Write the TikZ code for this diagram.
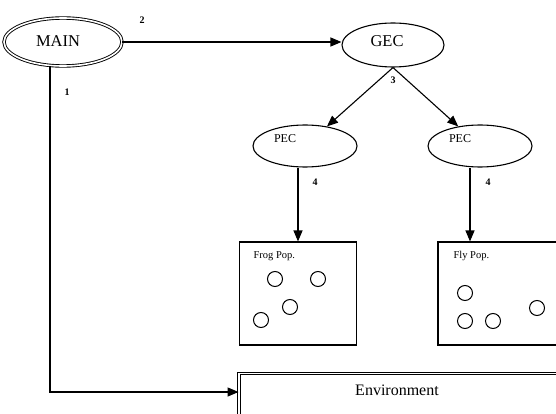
\documentclass[tikz,border=0pt]{standalone}
\usepackage{fontspec}
\setmainfont{Liberation Serif}
\usetikzlibrary{arrows.meta,shapes.geometric,calc}
\begin{document}
\begin{tikzpicture}[x=1pt,y=-1pt,
  line width=1.1pt,
  arr/.style={-{Triangle[length=11pt,width=9pt]}},
  oval/.style={draw,ellipse,inner sep=0pt},
  big/.style={font=\fontsize{16.5}{18}\selectfont,inner sep=0pt},
  popbox/.style={draw,rectangle,inner sep=0pt,minimum height=103pt},
  dot/.style={draw,circle,inner sep=0pt,minimum size=15pt,line width=1pt},
  num/.style={font=\fontsize{10}{12}\selectfont\bfseries,inner sep=0pt},
  small/.style={font=\fontsize{10.5}{12}\selectfont,inner sep=0pt,anchor=west}]
\useasboundingbox (0,0) rectangle (556,414);
\clip (0,0) rectangle (556,414);

% controllers
\node[oval,double,double distance=1.6pt,line width=0.9pt,minimum width=118pt,minimum height=48pt] (main) at (63,42) {};
\node[big] (maint) at (58,41) {MAIN};
\node[oval,minimum width=102pt,minimum height=44pt] (gec) at (393,45) {};
\node[big] (gect) at (387,41) {GEC};
\node[oval,minimum width=104pt,minimum height=42pt] (pecL) at (305,146) {};
\node[oval,minimum width=104pt,minimum height=42pt] (pecR) at (480,146) {};
\node[font=\fontsize{12}{14}\selectfont,inner sep=0pt] (pecLt) at (285,139) {PEC};
\node[font=\fontsize{12}{14}\selectfont,inner sep=0pt] (pecRt) at (460,139) {PEC};

% populations (the right box runs past the frame edge)
\node[popbox,minimum width=117pt] (frog) at (298,293.5) {};
\node[popbox,minimum width=124pt] (fly) at (500,293.5) {};
\node[small] (frogt) at (253,256) {Frog Pop.};
\node[small] (flyt) at (453,256) {Fly Pop.};
\node[dot] (f1) at (275,279) {};
\node[dot] (f2) at (318,279) {};
\node[dot] (f3) at (290,307) {};
\node[dot] (f4) at (261,320) {};
\node[dot] (y1) at (465,293) {};
\node[dot] (y2) at (465,321) {};
\node[dot] (y3) at (493,321) {};
\node[dot] (y4) at (537,308) {};

% environment (extends past the right and bottom edges)
\node[draw,rectangle,double,double distance=1.6pt,line width=0.9pt,inner sep=0pt,
      minimum width=330pt,minimum height=50pt] (env) at (404,398.5) {};
\node[font=\fontsize{16}{18}\selectfont,inner sep=0pt] (envt) at (397,390) {Environment};

% connectors
\draw[arr] (main.east) -- (main.east -| gec.west);
\draw[arr] (gec.south) -- (pecL);
\draw[arr] (gec.south) -- (pecR);
\draw[arr] (frog.north |- pecL.south) -- (frog.north);
\draw[arr] ([xshift=-10pt]pecR.south) -- ([xshift=-10pt]pecR.south |- fly.north);
\draw[arr] ([xshift=-13pt]main.south) |- ([yshift=-2pt]env.west |- envt);

% connector labels
\node[num] (l1) at (67,92) {1};
\node[num] (l2) at (142,20) {2};
\node[num] (l3) at (393,80) {3};
\node[num] (l4a) at (315,182) {4};
\node[num] (l4b) at (488,182) {4};
\end{tikzpicture}
\end{document}
